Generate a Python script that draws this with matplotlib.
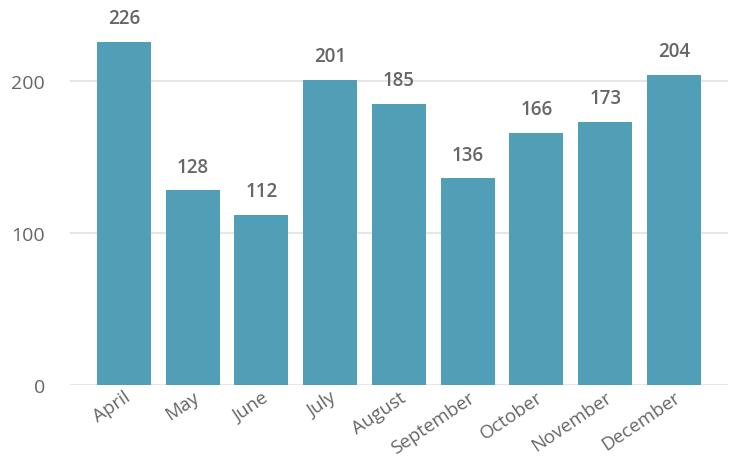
import matplotlib.pyplot as plt
import numpy as np

months = ["April", "May", "June", "July", "August", "September",
          "October", "November", "December"]
values = [226, 128, 112, 201, 185, 136, 166, 173, 204]
yticks = [0, 100, 200]

bar_color = "#519fb6"
text_color = "#666666"

fig = plt.figure(figsize=(7.36, 4.6), dpi=100)
ax = fig.add_axes([0.095, 0.161, 0.894, 0.839])

x = np.arange(len(months))
ax.bar(x, values, width=0.785, color=bar_color, zorder=3)

# value labels above bars
for xi, v in zip(x, values):
    ax.annotate(str(v), (xi, v), xytext=(0, 17), textcoords="offset points",
                ha="center", va="center", fontsize=13.5, fontweight=600,
                color=text_color, family="Open Sans")

ax.set_xlim(-0.785, len(months) - 1 + 0.785)
ax.set_ylim(0, 254)
ax.set_yticks(yticks)
ax.set_yticklabels([str(t) for t in yticks], fontsize=14, color=text_color,
                   family="Open Sans")
ax.set_xticks(x)
ax.set_xticklabels(months, rotation=34, ha="right", rotation_mode="anchor",
                   fontsize=13.5, color=text_color, family="Open Sans")

ax.grid(axis="y", color="#e6e6e6", linewidth=1.5, zorder=0)
ax.tick_params(axis="both", length=0)
ax.tick_params(axis="y", pad=18)
ax.tick_params(axis="x", pad=2)
for s in ax.spines.values():
    s.set_visible(False)

fig.savefig("out.png", dpi=100)
